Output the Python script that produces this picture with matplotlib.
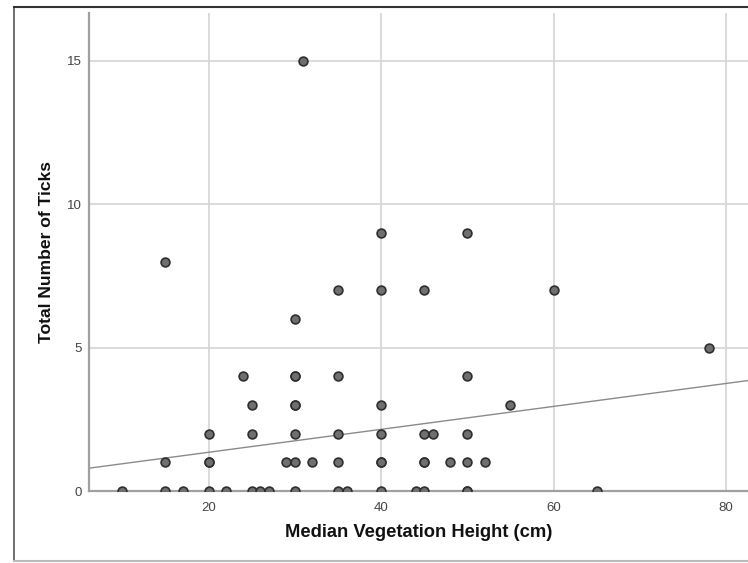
import matplotlib
matplotlib.use("Agg")
import matplotlib.pyplot as plt
from matplotlib.lines import Line2D

plt.rcParams['font.family'] = ['Liberation Sans', 'DejaVu Sans']

# Data
veg_height = [31,
              15,
              40, 50,
              35, 40, 45, 60,
              30,
              78,
              24, 30, 30, 35, 50,
              25, 30, 30, 40, 55,
              20, 25, 30, 35, 40, 45, 46, 50,
              15, 20, 20, 29, 30, 32, 35, 40, 40, 45, 45, 48, 50, 52,
              10, 15, 17, 20, 22, 25, 26, 27, 30, 35, 36, 40, 44, 45, 50, 50, 65]
tick_count = [15,
              8,
              9, 9,
              7, 7, 7, 7,
              6,
              5,
              4, 4, 4, 4, 4,
              3, 3, 3, 3, 3,
              2, 2, 2, 2, 2, 2, 2, 2,
              1, 1, 1, 1, 1, 1, 1, 1, 1, 1, 1, 1, 1, 1,
              0, 0, 0, 0, 0, 0, 0, 0, 0, 0, 0, 0, 0, 0, 0, 0, 0]
fit_intercept = 0.55
fit_slope = 0.040
x_ticks = [20, 40, 60, 80]
y_ticks = [0, 5, 10, 15]

W, H = 748, 563
fig = plt.figure(figsize=(W / 100, H / 100), dpi=100)
ax = fig.add_axes([89 / W, 1 - 491 / H, (W - 89) / W, (491 - 13) / H])

xlim = (6.14, 82.55)
ylim = (0, 16.67)
ax.set_xlim(*xlim)
ax.set_ylim(*ylim)

ax.set_xticks(x_ticks)
ax.set_yticks(y_ticks)
ax.set_xticklabels([str(v) for v in x_ticks])
ax.set_yticklabels([str(v) for v in y_ticks])
ax.tick_params(length=0, labelsize=9.5, labelcolor='#444444')
ax.tick_params(axis='x', pad=8)
ax.tick_params(axis='y', pad=5)
ax.grid(True, color='#d4d4d4', linewidth=1.2, zorder=0)
ax.set_axisbelow(True)

for s in ['top', 'right']:
    ax.spines[s].set_visible(False)
for s in ['left', 'bottom']:
    ax.spines[s].set_color('#a0a0a0')
    ax.spines[s].set_linewidth(1.6)

# fit line
ax.plot(list(xlim), [fit_intercept + fit_slope * xlim[0], fit_intercept + fit_slope * xlim[1]],
        color='#8a8a8a', linewidth=1.0, zorder=2)

ax.scatter(veg_height, tick_count, s=40, facecolor='#6f6f6f', edgecolor='#2e2e2e',
           linewidth=1.2, zorder=3, clip_on=True)

ax.set_xlabel('Median Vegetation Height (cm)', fontsize=13.2, fontweight='bold',
              color='#111111', labelpad=7)
ax.set_ylabel('Total Number of Ticks', fontsize=12.6, fontweight='bold',
              color='#111111', labelpad=9.5)

# outer frame
fig.add_artist(Line2D([13.5 / W, 13.5 / W], [1 - 561 / H, 1 - 6.5 / H],
                      transform=fig.transFigure, color='#555555', linewidth=1.2))
fig.add_artist(Line2D([13.5 / W, 1], [1 - 6.5 / H, 1 - 6.5 / H],
                      transform=fig.transFigure, color='#333333', linewidth=1.5))
fig.add_artist(Line2D([13.5 / W, 1], [1 - 561 / H, 1 - 561 / H],
                      transform=fig.transFigure, color='#bbbbbb', linewidth=1.5))

fig.savefig('out.png', dpi=100)
